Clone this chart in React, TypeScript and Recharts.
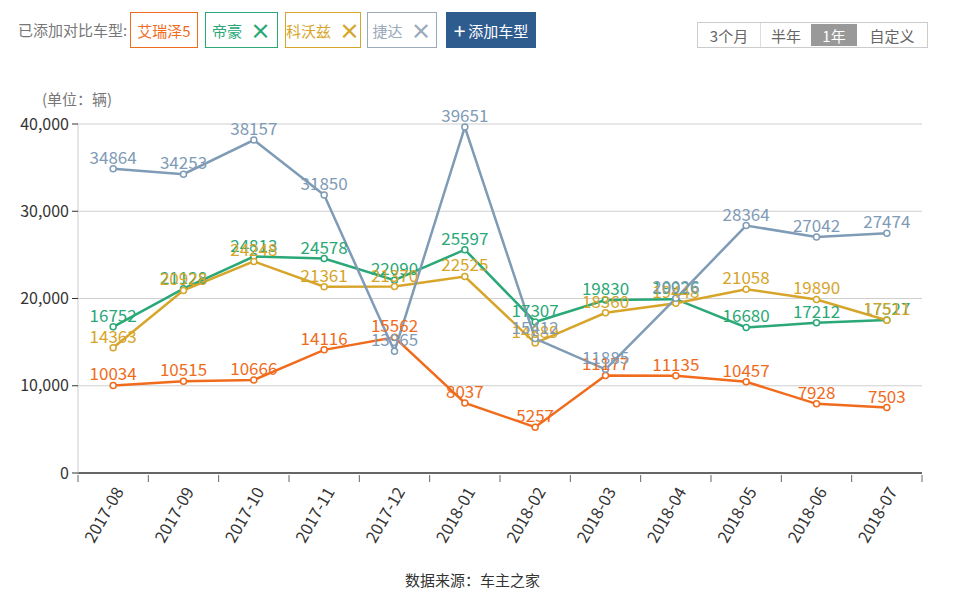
import React from "react";
import { LineChart, Line, XAxis, YAxis, CartesianGrid, LabelList } from "recharts";

const months = ["2017-08","2017-09","2017-10","2017-11","2017-12","2018-01","2018-02","2018-03","2018-04","2018-05","2018-06","2018-07"];
const arrizo5 = [10034,10515,10666,14116,15562,8037,5257,11177,11135,10457,7928,7503];
const emgrand = [16752,21128,24813,24578,22090,25597,17307,19830,19926,16680,17212,17527];
const cavalier = [14363,20928,24248,21361,21370,22525,14889,18360,19448,21058,19890,17511];
const jetta = [34864,34253,38157,31850,13965,39651,15412,11885,20026,28364,27042,27474];
const yTicks = [0,10000,20000,30000,40000];

const series = [
  { key: "arrizo5", name: "艾瑞泽5", color: "#f06b1c", values: arrizo5 },
  { key: "emgrand", name: "帝豪", color: "#2aa877", values: emgrand },
  { key: "cavalier", name: "科沃兹", color: "#d6a52a", values: cavalier },
  { key: "jetta", name: "捷达", color: "#7f9bb6", values: jetta },
];

const data = months.map((m, i) => {
  const row: any = { month: m };
  series.forEach((s) => { row[s.key] = s.values[i]; });
  return row;
});

const FONT = "'Microsoft YaHei', 'Noto Sans CJK SC', sans-serif";
const PLOT_W = 844;
const HALF = PLOT_W / months.length / 2;

const XTick = (props: any) => {
  const { x, y, payload, index } = props;
  const ay = y - 8;
  return (
    <g>
      <line x1={x - HALF} x2={x - HALF} y1={ay} y2={ay + 7} stroke="#666" />
      {index === months.length - 1 && <line x1={x + HALF} x2={x + HALF} y1={ay} y2={ay + 7} stroke="#666" />}
      <text x={x + 5} y={y + 5} transform={`rotate(-60, ${x + 5}, ${y + 5})`} textAnchor="end" dominantBaseline="central" fill="#333" fontSize={16.5} fontFamily={FONT}>
        {payload.value}
      </text>
    </g>
  );
};

const fmt = (v: number) => v.toLocaleString("en-US");

const chip = (left: number, width: number, color: string, label: string, x: boolean) => (
  <div style={{ position: "absolute", left, top: 12, width, height: 36, boxSizing: "border-box", border: `1px solid ${color}`, color, fontSize: 15, display: "flex", alignItems: "center", justifyContent: "center", gap: 8, background: "#fff" }}>
    <span>{label}</span>
    {x && <span style={{ fontSize: 21, fontWeight: 600, lineHeight: 1 }}>×</span>}
  </div>
);

export default function App() {
  return (
    <div style={{ position: "absolute", left: 0, top: 0, width: 953, height: 607, background: "#fff", fontFamily: FONT, overflow: "hidden" }}>
      <div style={{ position: "absolute", left: 18, top: 19, fontSize: 15, color: "#777" }}>已添加对比车型:</div>
      {chip(130, 68, "#f06b1c", "艾瑞泽5", false)}
      {chip(205, 73, "#2aa877", "帝豪", true)}
      {chip(285, 76, "#d6a52a", "科沃兹", true)}
      {chip(367, 70, "#9aaabb", "捷达", true)}
      <div style={{ position: "absolute", left: 446, top: 12, width: 90, height: 36, background: "#2f5c8f", color: "#fff", fontSize: 15, display: "flex", alignItems: "center", justifyContent: "center" }}>
        <span style={{ fontSize: 21, marginRight: 3, lineHeight: 1 }}>+</span>添加车型
      </div>
      <div style={{ position: "absolute", left: 697, top: 22, width: 231, height: 26, boxSizing: "border-box", border: "1px solid #ccc", display: "flex", fontSize: 15, color: "#666" }}>
        <div style={{ width: 62, display: "flex", alignItems: "center", justifyContent: "center", borderRight: "1px solid #ddd" }}>3个月</div>
        <div style={{ width: 50, display: "flex", alignItems: "center", justifyContent: "center" }}>半年</div>
        <div style={{ width: 46, display: "flex", alignItems: "center", justifyContent: "center", background: "#999", color: "#fff", margin: "1px 0" }}>1年</div>
        <div style={{ flex: 1, display: "flex", alignItems: "center", justifyContent: "center" }}>自定义</div>
      </div>
      <div style={{ position: "absolute", left: 42, top: 88, fontSize: 15, color: "#777" }}>(单位：辆)</div>
      <div style={{ position: "absolute", left: 0, top: 0 }}>
        <LineChart width={953} height={607} data={data} margin={{ top: 124, right: 31, left: 18, bottom: 54 }}>
          <CartesianGrid vertical={false} stroke="#cfcfcf" />
          <XAxis dataKey="month" interval={0} height={80} padding={{ left: HALF, right: HALF }} tick={<XTick />} axisLine={{ stroke: "#666", strokeWidth: 2 }} tickLine={false} tickSize={8} />
          <YAxis width={60} domain={[0, 40000]} ticks={yTicks} tickFormatter={fmt} axisLine={{ stroke: "#ccc" }} tickLine={{ stroke: "#333" }} tickSize={6} tickMargin={3} tick={{ fill: "#333", fontSize: 16, fontFamily: FONT }} />
          {series.map((s) => (
            <Line key={s.key} dataKey={s.key} name={s.name} stroke={s.color} strokeWidth={2.5} isAnimationActive={false}
              dot={{ r: 3, fill: "#fff", stroke: s.color, strokeWidth: 1.5 }} activeDot={false}>
              <LabelList dataKey={s.key} position="top" offset={5} fill={s.color} fontSize={17} fontFamily={FONT} />
            </Line>
          ))}
        </LineChart>
      </div>
      <div style={{ position: "absolute", left: 0, width: 945, top: 569, textAlign: "center", fontSize: 15, color: "#333" }}>数据来源：车主之家</div>
    </div>
  );
}
